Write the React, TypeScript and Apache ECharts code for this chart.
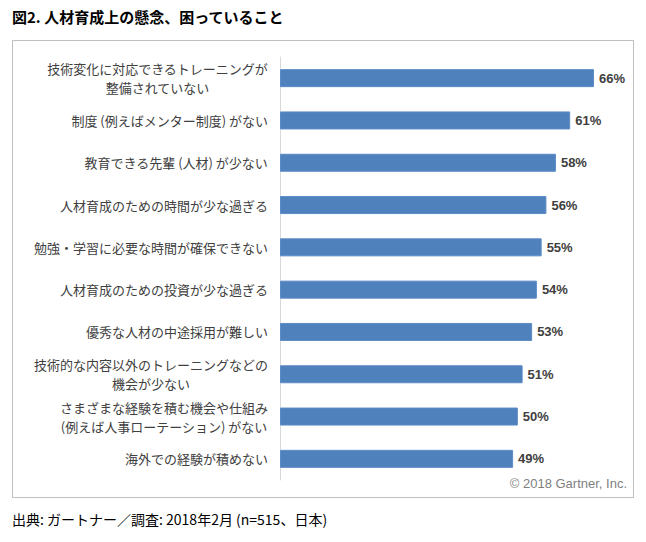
import React, { useEffect, useRef } from "react";
import * as echarts from "echarts";

const categories: string[] = [
  "技術変化に対応できるトレーニングが\n整備されていない",
  "制度 (例えばメンター制度) がない",
  "教育できる先輩 (人材) が少ない",
  "人材育成のための時間が少な過ぎる",
  "勉強・学習に必要な時間が確保できない",
  "人材育成のための投資が少な過ぎる",
  "優秀な人材の中途採用が難しい",
  "技術的な内容以外のトレーニングなどの\n機会が少ない",
  "さまざまな経験を積む機会や仕組み\n(例えば人事ローテーション) がない",
  "海外での経験が積めない",
];
const values: number[] = [66, 61, 58, 56, 55, 54, 53, 51, 50, 49];

const titleText = "図2. 人材育成上の懸念、困っていること";
const sourceText = "出典: ガートナー／調査: 2018年2月 (n=515、日本)";
const copyrightText = "© 2018 Gartner, Inc.";

const FONT = '"Noto Sans CJK JP", "Noto Sans", sans-serif';

export default function App() {
  const ref = useRef<HTMLDivElement>(null);
  useEffect(() => {
    if (!ref.current) return;
    const chart = echarts.init(ref.current, null, { renderer: "svg" });
    chart.setOption({
      animation: false,
      backgroundColor: "#ffffff",
      textStyle: { fontFamily: FONT },
      grid: { left: 280, right: 33, top: 57, bottom: 62, containLabel: false },
      xAxis: {
        type: "value",
        min: 0,
        max: 70,
        show: false,
      },
      yAxis: {
        type: "category",
        data: categories,
        inverse: true,
        axisLine: { show: true, lineStyle: { color: "#d9d9d9", width: 1 } },
        axisTick: { show: false },
        axisLabel: {
          margin: 12,
          color: "#404040",
          fontSize: 13,
          fontFamily: FONT,
          lineHeight: 19,
          formatter: (v: string) =>
            v
              .split("\n")
              .map((s) => `{c|${s}}`)
              .join("\n"),
          rich: {
            c: {
              align: "center",
              color: "#404040",
              fontSize: 13,
              fontFamily: FONT,
              lineHeight: 19,
            },
          },
        },
        splitLine: { show: false },
      },
      series: [
        {
          type: "bar",
          data: values,
          barWidth: 18,
          itemStyle: { color: "#4f81bd", borderColor: "#5b8bc6", borderWidth: 1 },
          label: {
            show: true,
            position: "right",
            distance: 5,
            formatter: "{c}%",
            fontWeight: "bold",
            fontSize: 13,
            color: "#404040",
            fontFamily: "Arial, Liberation Sans, sans-serif",
          },
        },
      ],
      graphic: [
        {
          type: "text",
          left: 12,
          top: 9,
          style: {
            text: titleText,
            font: `bold 15px ${FONT}`,
            fill: "#000000",
          },
        },
        {
          type: "rect",
          shape: { x: 12.5, y: 40.5, width: 621, height: 457 },
          style: { fill: "none", stroke: "#bfbfbf", lineWidth: 1 },
          silent: true,
        },
        {
          type: "text",
          right: 19,
          top: 477,
          style: {
            text: copyrightText,
            font: '13px "Liberation Sans", Arial, sans-serif',
            fill: "#7f7f7f",
          },
        },
        {
          type: "text",
          left: 12,
          top: 512,
          style: {
            text: sourceText,
            font: `14px ${FONT}`,
            fill: "#000000",
          },
        },
      ],
    });
    return () => chart.dispose();
  }, []);
  return <div ref={ref} style={{ width: 646, height: 542, position: "absolute", left: 0, top: 0 }} />;
}
